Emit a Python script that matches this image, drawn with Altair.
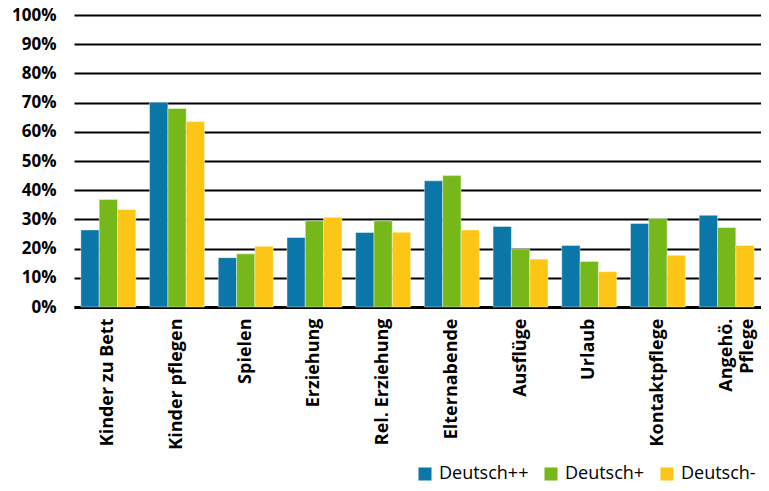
import altair as alt
import pandas as pd

categories = ["Kinder zu Bett", "Kinder pflegen", "Spielen", "Erziehung", "Rel. Erziehung",
              "Elternabende", "Ausflüge", "Urlaub", "Kontaktpflege", "Angehö. Pflege"]
series = ["Deutsch++", "Deutsch+", "Deutsch-"]
deutsch_pp = [26.4, 70.1, 16.9, 23.8, 25.5, 43.2, 27.6, 21.1, 28.6, 31.4]
deutsch_p = [36.8, 68.0, 18.2, 29.5, 29.5, 45.0, 19.9, 15.6, 30.3, 27.2]
deutsch_m = [33.4, 63.5, 20.8, 30.7, 25.6, 26.4, 16.4, 12.1, 17.7, 21.1]
colors = ["#0a77a8", "#76b81a", "#fdc617"]

rows = []
for s, vals in zip(series, [deutsch_pp, deutsch_p, deutsch_m]):
    for c, v in zip(categories, vals):
        rows.append({"Kategorie": c, "Gruppe": s, "Wert": v / 100})
df = pd.DataFrame(rows)

FONT = "Open Sans"

chart = alt.Chart(df).mark_bar(stroke="white", strokeWidth=0.6, strokeOpacity=0.7).encode(
    x=alt.X("Kategorie:N", sort=categories, title=None,
            scale=alt.Scale(paddingInner=0.2, paddingOuter=0.1),
            axis=alt.Axis(labelAngle=-90, labelFont=FONT, labelFontWeight="bold",
                          labelFontSize=18, labelColor="black", labelPadding=11,
                          ticks=False, domainColor="black", domainWidth=3,
                          labelExpr="datum.label == 'Angehö. Pflege' ? ['Angehö.', 'Pflege'] : datum.label",
                          labelLineHeight=21, labelLimit=300)),
    xOffset=alt.XOffset("Gruppe:N", sort=series),
    y=alt.Y("Wert:Q", title=None,
            scale=alt.Scale(domain=[0, 1], nice=False),
            axis=alt.Axis(values=[i / 10 for i in range(11)], format=".0%",
                          labelFont=FONT, labelFontWeight="bold", labelFontSize=17,
                          labelColor="black", labelPadding=18, ticks=False, domain=False,
                          grid=True, gridColor="black", gridWidth=2)),
    color=alt.Color("Gruppe:N", sort=series,
                    scale=alt.Scale(domain=series, range=colors),
                    legend=alt.Legend(title=None, orient="none", direction="horizontal",
                                      legendX=342, legendY=450, symbolType="square",
                                      symbolSize=170, symbolStrokeWidth=0,
                                      gridAlign="none", labelLimit=200,
                                      labelFont=FONT, labelFontSize=18, labelColor="black",
                                      columnPadding=13, labelOffset=5)),
).properties(
    width=687, height=292,
    autosize=alt.AutoSizeParams(type="none"),
    padding={"left": 66, "top": 7, "right": 0, "bottom": 176},
).configure_view(stroke=None)

chart.save("out.html", embed_options={"renderer": "svg", "actions": False})
